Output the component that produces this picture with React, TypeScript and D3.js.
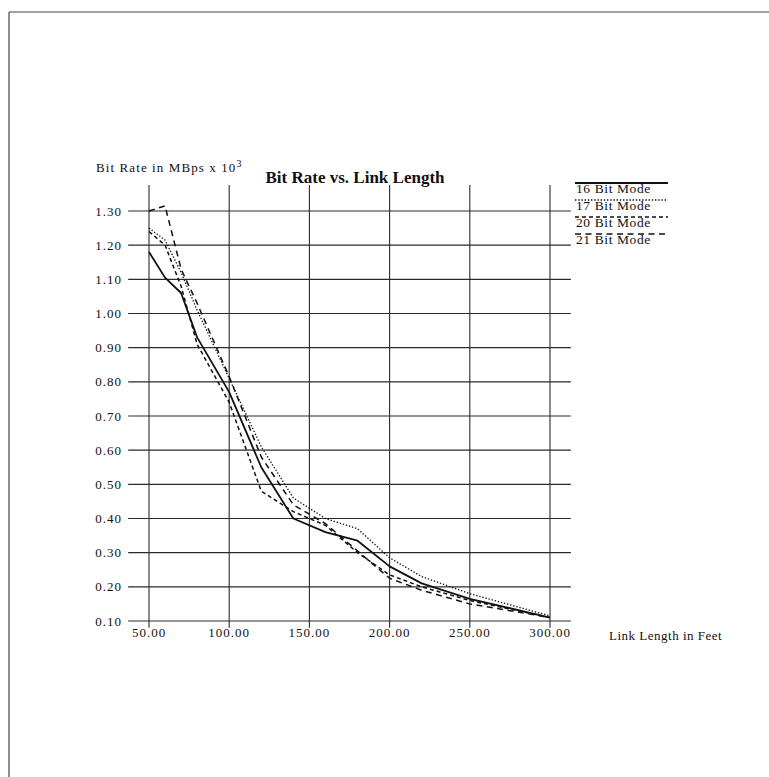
import React from 'react'
import * as d3 from 'd3'

const lengths = [50, 60, 70, 80, 100, 120, 140, 160, 180, 200, 220, 250, 300]
const mode16 = [1.18, 1.105, 1.06, 0.93, 0.77, 0.55, 0.4, 0.36, 0.335, 0.26, 0.21, 0.165, 0.11]
const mode17 = [1.25, 1.215, 1.12, 1.01, 0.81, 0.61, 0.46, 0.4, 0.37, 0.285, 0.23, 0.18, 0.115]
const mode20 = [1.24, 1.2, 1.08, 0.91, 0.74, 0.48, 0.42, 0.38, 0.3, 0.235, 0.2, 0.16, 0.11]
const mode21 = [1.3, 1.315, 1.13, 1.03, 0.815, 0.58, 0.44, 0.385, 0.305, 0.225, 0.19, 0.15, 0.11]

const xTicks = [50, 100, 150, 200, 250, 300]
const yTicks = [0.1, 0.2, 0.3, 0.4, 0.5, 0.6, 0.7, 0.8, 0.9, 1.0, 1.1, 1.2, 1.3]

const seriesNames = ['16 Bit Mode', '17 Bit Mode', '20 Bit Mode', '21 Bit Mode']
const seriesValues = [mode16, mode17, mode20, mode21]
const dashes = ['none', '1.4,1.8', '4,3', '6,4.5']
const widths = [1.8, 1.3, 1.5, 1.5]

const W = 769
const H = 777
const serif = '"Liberation Serif", "DejaVu Serif", serif'

export default function App() {
  const x = d3.scaleLinear().domain([50, 300]).range([149, 550])
  const y = d3.scaleLinear().domain([0.1, 1.3]).range([621, 211])

  const line = d3.line<[number, number]>()
    .x(d => x(d[0]))
    .y(d => y(d[1]))

  const gridLeft = x(37)
  const gridRight = x(313)
  const gridTop = y(1.376)
  const gridBottom = y(0.08)

  const legendX = 575
  const legendY = 183

  return (
    <svg width={W} height={H} style={{ position: 'absolute', left: 0, top: 0, background: '#fff' }}
      fontFamily={serif}>
      {/* page border from the scan */}
      <line x1={9} x2={W} y1={12} y2={12} stroke="#444" strokeWidth={1.2} />
      <line x1={9} x2={9} y1={12} y2={H} stroke="#444" strokeWidth={1.2} />

      {yTicks.map(t => (
        <line key={'h' + t} x1={gridLeft} x2={gridRight} y1={y(t)} y2={y(t)} stroke="#2a2a2a" strokeWidth={1.1} />
      ))}
      {xTicks.map(t => (
        <line key={'v' + t} x1={x(t)} x2={x(t)} y1={gridTop} y2={gridBottom} stroke="#2a2a2a" strokeWidth={1.1} />
      ))}

      {yTicks.map(t => (
        <text key={'yl' + t} x={122} y={y(t)} dy="0.35em" textAnchor="end" fontSize={13}
          letterSpacing={1} fill="#111">{t.toFixed(2)}</text>
      ))}
      {xTicks.map(t => (
        <text key={'xl' + t} x={x(t)} y={637} textAnchor="middle" fontSize={13}
          letterSpacing={1} fill="#111">{t.toFixed(2)}</text>
      ))}

      {seriesValues.map((vals, i) => (
        <path key={seriesNames[i]}
          d={line(lengths.map((l, j) => [l, vals[j]] as [number, number])) || ''}
          fill="none" stroke="#111" strokeWidth={widths[i]} strokeDasharray={dashes[i]}
          strokeLinejoin="round" />
      ))}

      <text x={355} y={183} textAnchor="middle" fontSize={17} fontWeight="bold" fill="#111">
        Bit Rate vs. Link Length
      </text>
      <text x={96} y={172} fontSize={13} letterSpacing={1.1} fill="#111">
        Bit Rate in MBps x 10<tspan dy={-5} fontSize={10}>3</tspan>
      </text>
      <text x={609} y={640} fontSize={13} letterSpacing={0.5} fill="#111">Link Length in Feet</text>

      {seriesNames.map((name, i) => (
        <g key={'lg' + name} transform={`translate(${legendX},${legendY + i * 17})`}>
          <line x1={0} x2={93} y1={0} y2={0} stroke="#111" strokeWidth={widths[i]}
            strokeDasharray={dashes[i]} />
          <text x={1} y={9.5} fontSize={13.5} letterSpacing={0.6} fill="#111">{name}</text>
        </g>
      ))}
    </svg>
  )
}
